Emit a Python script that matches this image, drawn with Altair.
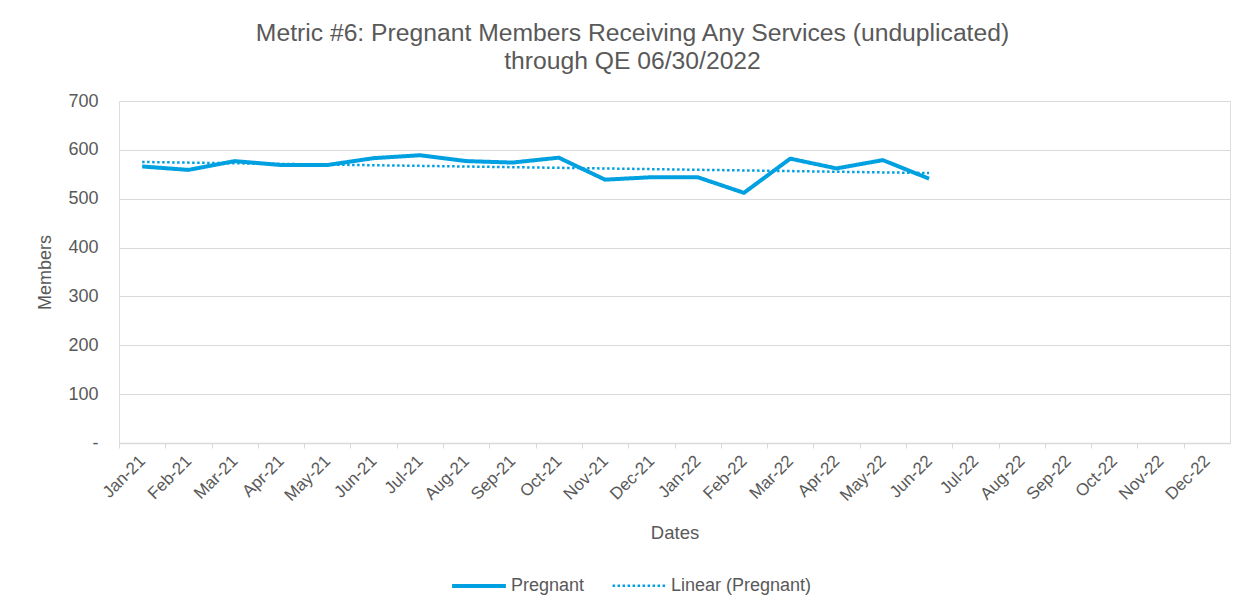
import altair as alt
import pandas as pd

months = ["Jan-21", "Feb-21", "Mar-21", "Apr-21", "May-21", "Jun-21", "Jul-21", "Aug-21",
          "Sep-21", "Oct-21", "Nov-21", "Dec-21", "Jan-22", "Feb-22", "Mar-22", "Apr-22",
          "May-22", "Jun-22", "Jul-22", "Aug-22", "Sep-22", "Oct-22", "Nov-22", "Dec-22"]
pregnant = [566, 559, 577, 569, 569, 583, 589, 577, 574, 584, 539, 544,
            544, 512, 582, 562, 579, 541]
series_names = ["Pregnant", "Linear (Pregnant)"]
title_lines = ["Metric #6: Pregnant Members Receiving Any Services (unduplicated)",
               "through QE 06/30/2022"]

BLUE = "#00A0E1"
TEXT = "#595959"
GRID = "#D9D9D9"
FONT = "Liberation Sans"

W, H = 1111, 342
step = W / len(months)

df = pd.DataFrame({
    "month": months[:len(pregnant)],
    "idx": list(range(len(pregnant))),
    "members": pregnant,
    "series": series_names[0],
})

months_js = "[" + ",".join("'" + m + "'" for m in months) + "]"

leg = alt.Legend(
    title=None, orient="none", legendX=331, legendY=456, direction="horizontal",
    symbolType="stroke", symbolSize=2900, labelFontSize=18, labelColor=TEXT,
    labelFont=FONT, labelOffset=3, columnPadding=22, labelLimit=300,
)

color = alt.Color("series:N", scale=alt.Scale(domain=series_names, range=[BLUE, BLUE]), legend=leg)
dash = alt.StrokeDash("series:N", scale=alt.Scale(domain=series_names, range=[[1, 0], [2.5, 2.5]]), legend=leg)
width = alt.StrokeWidth("series:N", scale=alt.Scale(domain=series_names, range=[4, 2.5]), legend=leg)

x_enc = alt.X(
    "month:O",
    scale=alt.Scale(domain=months, type="point", padding=0.5),
    axis=alt.Axis(
        title="Dates", labelAngle=315, labelAlign="right", labelBaseline="middle",
        tickOffset=-step / 2, labelOffset=step / 2, labelPadding=10,
        tickSize=5, tickColor=GRID, domainColor=GRID, domainWidth=1.5,
        labelFontSize=17, labelColor=TEXT, labelFont=FONT,
        titleFontSize=18.5, titleColor=TEXT, titleFont=FONT, titleFontWeight="normal",
        titleY=89, titleBaseline="middle", grid=False,
    ),
)
y_enc = alt.Y(
    "members:Q",
    scale=alt.Scale(domain=[0, 700], nice=False),
    axis=alt.Axis(
        title="Members", values=[0, 100, 200, 300, 400, 500, 600, 700],
        labelExpr="datum.value === 0 ? '-\u00a0\u00a0' : datum.label",
        ticks=False, domain=False, labelPadding=21, gridColor=GRID,
        labelFontSize=18, labelColor=TEXT, labelFont=FONT,
        titleFontSize=18, titleColor=TEXT, titleFont=FONT, titleFontWeight="normal",
        titleX=-74, titleY=H / 2, titleAlign="center", titleBaseline="middle", titleAngle=270,
    ),
)

main = alt.Chart(df).mark_line(strokeCap="butt", strokeJoin="round").encode(
    x=x_enc, y=y_enc, order="idx:Q", color=color, strokeDash=dash, strokeWidth=width,
)

trend = alt.Chart(df).transform_regression(
    "idx", "members", method="linear"
).transform_calculate(
    month=months_js + "[round(datum.idx)]",
    series="'" + series_names[1] + "'",
).mark_line().encode(
    x=x_enc, y=y_enc, order="idx:Q", color=color, strokeDash=dash, strokeWidth=width,
)

chart = alt.layer(main, trend).properties(
    width=W, height=H,
    title=alt.TitleParams(
        text=title_lines, fontSize=24.7, font=FONT, color=TEXT, fontWeight="normal",
        anchor="middle", dx=-42, offset=18, lineHeight=28,
    ),
    autosize=alt.AutoSizeParams(type="none"),
    padding={"left": 111, "top": 93, "right": 10, "bottom": 158},
).configure_view(stroke=None).configure(background="white")

chart.save("out.html", embed_options={"renderer": "svg", "actions": False})
